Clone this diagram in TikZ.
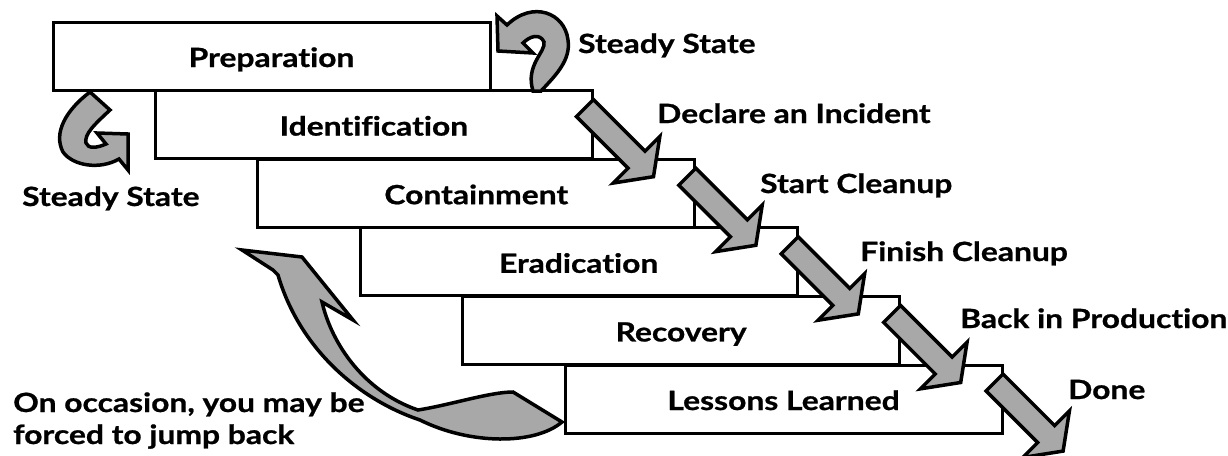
\documentclass[tikz,border=0pt]{standalone}
\usepackage{fontspec}
\setmainfont{Lato}[FakeStretch=1.2, Ligatures=NoCommon, BoldFeatures={FakeBold=0.8}]
\usetikzlibrary{calc}
\definecolor{arrgray}{RGB}{168,168,168}
\begin{document}
\begin{tikzpicture}[x=1pt,y=-1pt,
  txt/.style={font=\fontsize{26.5}{30}\selectfont\bfseries},
  box/.style={txt, draw=black, line width=3pt, fill=white, minimum width=437pt,
    minimum height=68pt, inner sep=0pt, text height=22pt, text depth=0pt},
  lbl/.style={txt, anchor=west, inner sep=0pt, text height=18pt, text depth=0pt},
  blk/.style={draw=black, line width=3.5pt, line join=miter, miter limit=6, fill=arrgray},
  diagarrow/.pic={\filldraw[blk] (0,-12) -- (73,-12) -- (73,-33) -- (97,0) -- (73,33) -- (73,12) -- (0,12) -- cycle;}
]
\useasboundingbox (0,0) rectangle (1228,455);

% stair boxes
\node[box] (b1) at (271.5,56)    {Preparation};
\node[box] (b2) at (373.9,124.6) {Identification};
\node[box] (b3) at (476.3,193.2) {Containment};
\node[box] (b4) at (578.7,261.8) {Eradication};
\node[box] (b5) at (681.1,330.4) {Recovery};
\node[box] (b6) at (783.5,399)   {Lessons Learned};

% diagonal block arrows
\foreach \b in {b2,b3,b4,b5,b6}{
  \pic[rotate=-45] at ($(\b.north east)+(-9,19)$) {diagarrow};
}

% labels
\node[lbl] (l1) at (578,44)  {Steady State};
\node[lbl] (l2) at (657,114) {Declare an Incident};
\node[lbl] (l3) at (760,184) {Start Cleanup};
\node[lbl] (l4) at (860,252) {Finish Cleanup};
\node[lbl] (l5) at (960,319) {Back in Production};
\node[lbl] (l6) at (1068,390) {Done};
\node[lbl] (l7) at (22,197)  {Steady State};
\node[txt, anchor=base west, inner sep=0pt] (j1) at (13,412) {On occasion, you may be};
\node[txt, anchor=base west, inner sep=0pt] (j2) at (13,444) {forced to jump back};

% top-right steady state arrow
\filldraw[blk] (541,91)
  .. controls (556,75) and (571,60) .. (568,40)
  .. controls (565,13) and (533,0) .. (507,25)
  -- (497,16) -- (498,51) -- (533,53) -- (523,43)
  .. controls (530,36) and (540,33) .. (544,42)
  .. controls (546,52) and (525,65) .. (533,91) -- cycle;

% left steady state arrow
\filldraw[blk] (90,92) -- (110,110)
  .. controls (95,124) and (84,134) .. (86,143)
  .. controls (88,149) and (97,148) .. (106,144)
  -- (97,133) -- (128,134) -- (128,170) -- (119,159)
  .. controls (100,170) and (73,166) .. (63,152)
  .. controls (53,133) and (66,110) .. (90,92) -- cycle;

% jump back arrow
\filldraw[blk] (242,250) -- (302,257) -- (353,320) -- (322,302)
  .. controls (332,345) and (365,392) .. (418,410)
  .. controls (450,405) and (490,392) .. (513,392)
  -- (562,422)
  .. controls (535,445) and (470,445) .. (420,420)
  .. controls (360,400) and (300,350) .. (278,275) -- (273,270) -- cycle;
\end{tikzpicture}
\end{document}
